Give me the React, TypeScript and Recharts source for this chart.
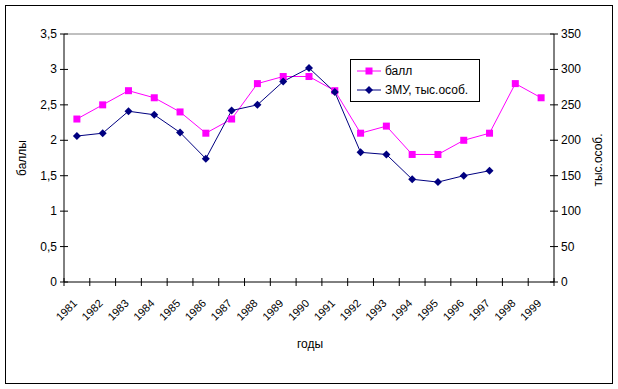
import React from "react";
import {
  ComposedChart,
  Line,
  XAxis,
  YAxis,
  ReferenceLine,
} from "recharts";

const years = [
  "1981", "1982", "1983", "1984", "1985", "1986", "1987", "1988", "1989", "1990",
  "1991", "1992", "1993", "1994", "1995", "1996", "1997", "1998", "1999",
];
const ballValues = [
  2.3, 2.5, 2.7, 2.6, 2.4, 2.1, 2.3, 2.8, 2.9, 2.9,
  2.7, 2.1, 2.2, 1.8, 1.8, 2.0, 2.1, 2.8, 2.6,
];
const zmuValues: (number | null)[] = [
  206, 210, 241, 236, 211, 174, 242, 250, 283, 302,
  268, 183, 180, 145, 141, 150, 157, null, null,
];
const leftTicks = [0, 0.5, 1, 1.5, 2, 2.5, 3, 3.5];
const rightTicks = [0, 50, 100, 150, 200, 250, 300, 350];

const data = years.map((year, i) => ({
  year,
  ball: ballValues[i],
  zmu: zmuValues[i],
}));

const FONT = "'Liberation Sans', Arial, sans-serif";
const MAGENTA = "#ff00ff";
const NAVY = "#000080";

const SquareDot = (props: any) => {
  const { cx, cy, value } = props;
  if (value == null || cx == null || cy == null) return null;
  return <rect x={cx - 3.5} y={cy - 3.5} width={7} height={7} fill={MAGENTA} />;
};

const DiamondDot = (props: any) => {
  const { cx, cy, value } = props;
  if (value == null || cx == null || cy == null) return null;
  return (
    <polygon
      points={`${cx},${cy - 4} ${cx + 4},${cy} ${cx},${cy + 4} ${cx - 4},${cy}`}
      fill={NAVY}
    />
  );
};

// category labels rotated, tick marks on the category boundaries crossing the axis
const XTick = (props: any) => {
  const { x, y, payload, index } = props;
  const half = payload?.offset || 490 / 38;
  const last = index === years.length - 1;
  const ax = x + 1;
  const ay = y + 22;
  return (
    <g>
      <line x1={x - half} x2={x - half} y1={y - 4} y2={y + 4} stroke="#000" />
      {last && <line x1={x + half} x2={x + half} y1={y - 4} y2={y + 4} stroke="#000" />}
      <text
        x={ax}
        y={ay}
        textAnchor="end"
        fontSize={11}
        fontFamily={FONT}
        fill="#000"
        transform={`rotate(-45, ${ax}, ${ay})`}
      >
        {payload.value}
      </text>
    </g>
  );
};

const LeftTick = (props: any) => {
  const { x, y, payload } = props;
  return (
    <g>
      <line x1={x - 4} x2={x + 4} y1={y} y2={y} stroke="#000" />
      <text x={x - 7} y={y + 4} textAnchor="end" fontSize={12} fontFamily={FONT} fill="#000">
        {String(payload.value).replace(".", ",")}
      </text>
    </g>
  );
};

const RightTick = (props: any) => {
  const { x, y, payload } = props;
  return (
    <g>
      <line x1={x - 4} x2={x + 4} y1={y} y2={y} stroke="#000" />
      <text x={x + 7} y={y + 4} textAnchor="start" fontSize={12} fontFamily={FONT} fill="#000">
        {payload.value}
      </text>
    </g>
  );
};

const LegendBox = () => (
  <div
    style={{
      position: "absolute",
      left: 350,
      top: 59,
      width: 128,
      height: 41,
      border: "1px solid #000",
      background: "#fff",
      fontFamily: FONT,
      fontSize: 12,
      color: "#000",
    }}
  >
    {[
      { name: "балл", color: MAGENTA, square: true },
      { name: "ЗМУ, тыс.особ.", color: NAVY, square: false },
    ].map((item, i) => (
      <div
        key={item.name}
        style={{ position: "absolute", left: 5, top: 3 + i * 19, display: "flex", alignItems: "center", height: 16 }}
      >
        <svg width={26} height={10} style={{ display: "block" }}>
          <line x1={1} x2={25} y1={5} y2={5} stroke={item.color} />
          {item.square ? (
            <rect x={9.5} y={1.5} width={7} height={7} fill={item.color} />
          ) : (
            <polygon points="13,1 17,5 13,9 9,5" fill={item.color} />
          )}
        </svg>
        <span style={{ marginLeft: 3 }}>{item.name}</span>
      </div>
    ))}
  </div>
);

const App: React.FC = () => {
  return (
    <div
      style={{
        position: "absolute",
        left: 0,
        top: 0,
        width: 618,
        height: 389,
        background: "#fff",
      }}
    >
      <div
        style={{
          position: "absolute",
          left: 5,
          top: 5,
          width: 606,
          height: 377,
          border: "1px solid #000",
        }}
      />
      <ComposedChart
        width={618}
        height={389}
        data={data}
        margin={{ top: 34, right: 0, bottom: 0, left: 0 }}
        style={{ position: "absolute", left: 0, top: 0 }}
      >
        <XAxis
          dataKey="year"
          xAxisId="x"
          type="category"
          scale="band"
          height={107}
          axisLine={{ stroke: "#000" }}
          tickLine={false}
          tickSize={0}
          tickMargin={0}
          interval={0}
          tick={<XTick />}
        />
        <YAxis
          yAxisId="left"
          orientation="left"
          width={64}
          domain={[0, 3.5]}
          ticks={leftTicks}
          axisLine={{ stroke: "#000" }}
          tickLine={false}
          tickSize={0}
          tickMargin={0}
          interval={0}
          tick={<LeftTick />}
        />
        <YAxis
          yAxisId="right"
          orientation="right"
          width={64}
          domain={[0, 350]}
          ticks={rightTicks}
          axisLine={{ stroke: "#000" }}
          tickLine={false}
          tickSize={0}
          tickMargin={0}
          interval={0}
          tick={<RightTick />}
        />
        <ReferenceLine xAxisId="x" yAxisId="left" y={3.5} stroke="#808080" />
        <Line
          xAxisId="x"
          yAxisId="left"
          dataKey="ball"
          name="балл"
          stroke={MAGENTA}
          strokeWidth={1}
          dot={<SquareDot />}
          activeDot={false}
          isAnimationActive={false}
        />
        <Line
          xAxisId="x"
          yAxisId="right"
          dataKey="zmu"
          name="ЗМУ, тыс.особ."
          stroke={NAVY}
          strokeWidth={1}
          dot={<DiamondDot />}
          activeDot={false}
          connectNulls={false}
          isAnimationActive={false}
        />
      </ComposedChart>
      <LegendBox />
      <div
        style={{
          position: "absolute",
          left: 22,
          top: 158,
          transform: "translate(-50%, -50%) rotate(-90deg)",
          fontFamily: FONT,
          fontSize: 12,
          whiteSpace: "nowrap",
        }}
      >
        баллы
      </div>
      <div
        style={{
          position: "absolute",
          left: 598,
          top: 160,
          transform: "translate(-50%, -50%) rotate(-90deg)",
          fontFamily: FONT,
          fontSize: 12,
          whiteSpace: "nowrap",
        }}
      >
        тыс.особ.
      </div>
      <div
        style={{
          position: "absolute",
          left: 310,
          top: 344,
          transform: "translate(-50%, -50%)",
          fontFamily: FONT,
          fontSize: 12,
          whiteSpace: "nowrap",
        }}
      >
        годы
      </div>
    </div>
  );
};

export default App;
